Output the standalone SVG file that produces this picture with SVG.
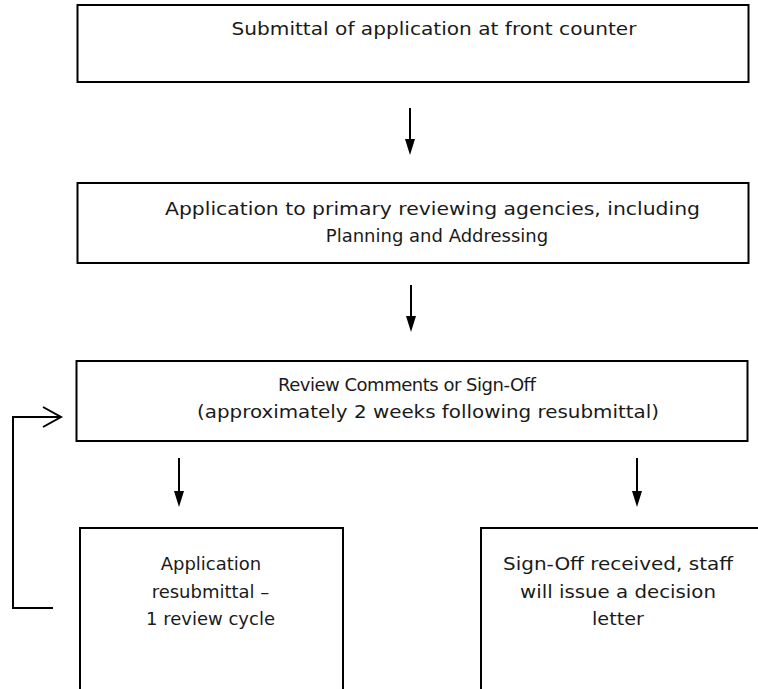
<svg xmlns="http://www.w3.org/2000/svg" width="758" height="689" viewBox="0 0 758 689">
<style>
.box{fill:#fff;stroke:#000;stroke-width:2}
.t{font-family:"DejaVu Sans","Liberation Sans",sans-serif;font-size:18px;fill:#1a1a1a;text-anchor:middle}
.ln{fill:none;stroke:#000;stroke-width:2}
.hd{fill:#000}
</style>
<rect width="758" height="689" fill="#fff"/>
<g id="n1"><rect class="box" x="77.5" y="5" width="671" height="77"/>
<text class="t" x="434" y="35" textLength="405" lengthAdjust="spacingAndGlyphs">Submittal of application at front counter</text></g>
<g id="n2"><rect class="box" x="77.5" y="183" width="671" height="80"/>
<text class="t" x="432.5" y="215" textLength="535" lengthAdjust="spacingAndGlyphs">Application to primary reviewing agencies, including</text>
<text class="t" x="437" y="242">Planning and Addressing</text></g>
<g id="n3"><rect class="box" x="76.5" y="361" width="671" height="80"/>
<text class="t" x="407" y="391" textLength="258" lengthAdjust="spacing">Review Comments or Sign-Off</text>
<text class="t" x="428" y="418" textLength="462" lengthAdjust="spacingAndGlyphs">(approximately 2 weeks following resubmittal)</text></g>
<g id="n4"><rect class="box" x="80" y="528" width="263" height="200"/>
<text class="t" x="211" y="570">Application</text>
<text class="t" x="210.5" y="598">resubmittal –</text>
<text class="t" x="210.5" y="625">1 review cycle</text></g>
<g id="n5"><rect class="box" x="481" y="528" width="300" height="200"/>
<text class="t" x="618" y="570" textLength="230" lengthAdjust="spacingAndGlyphs">Sign-Off received, staff</text>
<text class="t" x="618" y="598" textLength="196" lengthAdjust="spacingAndGlyphs">will issue a decision</text>
<text class="t" x="618" y="625" textLength="52" lengthAdjust="spacingAndGlyphs">letter</text></g>
<g id="connectors">
<line class="ln" x1="410" y1="108" x2="410" y2="142"/>
<path class="hd" d="M405,139 L415,139 L410,155 Z"/>
<line class="ln" x1="411" y1="285" x2="411" y2="319"/>
<path class="hd" d="M406,316 L416,316 L411,332 Z"/>
<line class="ln" x1="179" y1="458" x2="179" y2="494"/>
<path class="hd" d="M174,491 L184,491 L179,507 Z"/>
<line class="ln" x1="637" y1="458" x2="637" y2="494"/>
<path class="hd" d="M632,491 L642,491 L637,507 Z"/>
<path class="ln" d="M53,608 L13,608 L13,417 L60,417"/>
<path class="ln" d="M43,407 L61,417 L43,427" stroke-width="1.5"/>
</g>
</svg>
